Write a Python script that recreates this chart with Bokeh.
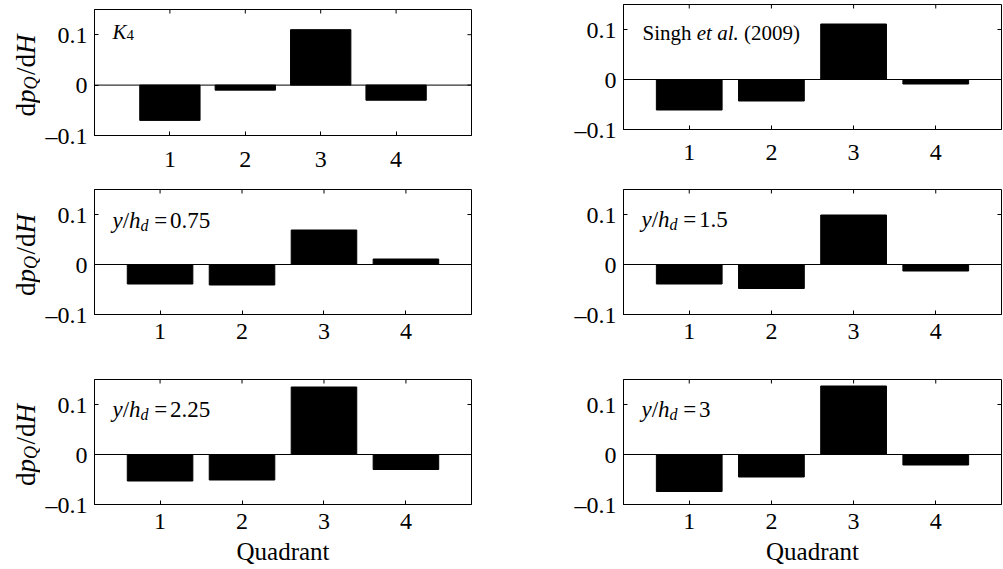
import math
from bokeh.plotting import figure
from bokeh.models import FixedTicker, Span, Label, Range1d
from bokeh.layouts import column, row
from bokeh.embed import file_html
from bokeh.resources import INLINE

# ---------------- data ----------------
quadrants = [1, 2, 3, 4]
quadrant_labels = ["1", "2", "3", "4"]
y_ticks = [-0.1, 0, 0.1]
y_tick_labels = ["\u20130.1", "0", "0.1"]

k4_values = [-0.070, -0.010, 0.110, -0.030]
singh_values = [-0.061, -0.043, 0.111, -0.009]
yh075_values = [-0.039, -0.041, 0.069, 0.011]
yh150_values = [-0.039, -0.048, 0.099, -0.013]
yh225_values = [-0.053, -0.051, 0.135, -0.030]
yh300_values = [-0.074, -0.045, 0.137, -0.021]

yh_labels = ["0.75", "1.5", "2.25", "3"]
x_label = "Quadrant"

FONT = "Liberation Serif"
TICK_FS = 24

# Times / Liberation Serif advance widths (em)
ROMAN = {"d": .5, "/": .278, "=": .564, " ": .25, ".": .25, "(": .333, ")": .333,
         "S": .556, "i": .278, "n": .5, "g": .5, "h": .5}
ITALIC = {"K": .667, "p": .5, "Q": .722, "H": .722, "y": .444, "h": .5, "d": .5,
          "e": .444, "t": .278, "a": .5, "l": .278, ".": .25, " ": .25}


def text_width(s, style, size):
    tab = ITALIC if style == "italic" else ROMAN
    return sum(tab.get(c, 0.5) for c in s) * size


class Geom:
    def __init__(self, L, R, T, B, xr, yr):
        self.L, self.R, self.T, self.B = L, R, T, B
        self.xr, self.yr = xr, yr

    def to_data(self, px, py):
        x0, x1 = self.xr
        y0, y1 = self.yr
        x = x0 + (px - self.L) / (self.R - self.L) * (x1 - x0)
        y = y0 + (self.B - py) / (self.B - self.T) * (y1 - y0)
        return x, y


def rich_label(p, geom, px, py, pieces, vertical=False):
    x, y = geom.to_data(px, py)
    cum = 0.0
    for text, style, size, shift in pieces:
        if text == "":
            cum += size
            continue
        if vertical:
            lab = Label(x=x, y=y, x_offset=shift, y_offset=cum, text=text,
                        angle=math.pi / 2, text_font=FONT, text_font_style=style,
                        text_font_size=f"{size}px", text_color="black",
                        text_baseline="alphabetic", text_align="left")
        else:
            lab = Label(x=x, y=y, x_offset=cum, y_offset=-shift, text=text,
                        text_font=FONT, text_font_style=style,
                        text_font_size=f"{size}px", text_color="black",
                        text_baseline="alphabetic", text_align="left")
        p.add_layout(lab)
        cum += text_width(text, style, size)


def style_axis(ax, ticks):
    ax.ticker = FixedTicker(ticks=ticks)
    ax.major_tick_in = 4
    ax.major_tick_out = 0
    ax.minor_tick_in = 0
    ax.minor_tick_out = 0
    ax.axis_line_color = "black"
    ax.axis_line_width = 1
    ax.major_tick_line_color = "black"
    ax.major_label_text_font = FONT
    ax.major_label_text_color = "black"
    ax.major_label_text_font_size = f"{TICK_FS}px"


def make_panel(values, width, height, bl, br, bt, bb, xr, x_standoff, with_xlabel=False):
    yr = (-0.1, 0.15)
    p = figure(width=width, height=height, x_range=Range1d(*xr), y_range=Range1d(*yr),
               output_backend="svg", toolbar_location=None,
               min_border_left=bl, min_border_right=br, min_border_top=bt, min_border_bottom=bb)
    p.xgrid.visible = False
    p.ygrid.visible = False
    p.outline_line_color = "black"
    p.outline_line_width = 1
    p.background_fill_color = "white"
    p.border_fill_color = "white"

    xax = p.xaxis[0]
    yax = p.yaxis[0]
    style_axis(xax, quadrants)
    xax.major_label_overrides = dict(zip(quadrants, quadrant_labels))
    xax.major_label_standoff = x_standoff
    style_axis(yax, y_ticks)
    yax.major_label_overrides = dict(zip(y_ticks, y_tick_labels))
    yax.major_label_standoff = 7

    if with_xlabel:
        xax.axis_label = x_label
        xax.axis_label_text_font = FONT
        xax.axis_label_text_font_style = "normal"
        xax.axis_label_text_font_size = "25px"
        xax.axis_label_text_color = "black"
        xax.axis_label_standoff = 6

    p.vbar(x=quadrants, top=values, bottom=0, width=0.8,
           fill_color="black", line_color="black", line_width=1)
    p.add_layout(Span(location=0, dimension="width", line_color="black", line_width=1))

    # inward ticks on the top and right edges of the box (MATLAB style)
    p.ray(x=quadrants, y=[yr[1]] * len(quadrants), length=4, length_units="screen",
          angle=-math.pi / 2, line_color="black", line_width=1)
    p.ray(x=[xr[1]] * len(y_ticks), y=y_ticks, length=4, length_units="screen",
          angle=math.pi, line_color="black", line_width=1)

    geom = Geom(bl, width - br, bt, height - bb, xr, yr)
    return p, geom


def label_strip(height):
    s = figure(width=40, height=height, x_range=Range1d(0, 40), y_range=Range1d(0, height),
               output_backend="svg", toolbar_location=None, x_axis_type=None, y_axis_type=None,
               min_border=0)
    s.outline_line_color = None
    s.background_fill_color = "white"
    s.border_fill_color = "white"
    return s, Geom(0, 40, 0, height, (0, 40), (0, height))


LW, RW = 491, 472
XR_TOP_LEFT = (0, 5)
XR = (0.2, 4.8)
ROW_H = [175, 185, 209]


def ylabel_pieces():
    return [("d", "normal", 27, 0), ("p", "italic", 27, 0), ("Q", "italic", 18, 5),
            ("", None, 1.5, 0), ("/", "normal", 27, 0), ("d", "normal", 27, 0),
            ("H", "italic", 27, 0)]


def ylabel_len():
    tot = 0
    for t, s, size, sh in ylabel_pieces():
        tot += size if t == "" else text_width(t, s, size)
    return tot


def yh_pieces(v, f=23):
    return [("y", "italic", f, 0), ("/", "normal", f, 0), ("h", "italic", f, 0),
            ("d", "italic", round(f * 0.7), round(f * 0.2)), ("", None, f * 0.25, 0),
            ("=", "normal", f, 0), ("", None, f * 0.12, 0), (v, "normal", f, 0)]


# left column
p1, g1 = make_panel(k4_values, LW, ROW_H[0], 54, 60, 9, 40, XR_TOP_LEFT, 16)
p3, g3 = make_panel(yh075_values, LW, ROW_H[1], 54, 60, 14, 46, XR, 9)
p5, g5 = make_panel(yh225_values, LW, ROW_H[2], 54, 60, 19, 65, XR, 9, with_xlabel=True)
# right column
p2, g2 = make_panel(singh_values, RW, ROW_H[0], 92, 2, 4, 46, XR, 15)
p4, g4 = make_panel(yh150_values, RW, ROW_H[1], 92, 2, 14, 46, XR, 9)
p6, g6 = make_panel(yh300_values, RW, ROW_H[2], 92, 2, 19, 65, XR, 9, with_xlabel=True)

# annotations
rich_label(p1, g1, 72, 31, [("K", "italic", 21, 0), ("4", "normal", 15, 3)])
f = 21
rich_label(p2, g2, 111, 32, [("Singh", "normal", f, 0), ("", None, 0.25 * f, 0),
                             ("et al.", "italic", f, 0), ("", None, 0.25 * f, 0),
                             ("(2009)", "normal", f, 0)])
rich_label(p3, g3, 72, 45, yh_pieces(yh_labels[0]))
rich_label(p4, g4, 110, 44, yh_pieces(yh_labels[1]))
rich_label(p5, g5, 72, 49, yh_pieces(yh_labels[2]))
rich_label(p6, g6, 110, 49, yh_pieces(yh_labels[3]))

# y-axis labels in a narrow strip left of the left column
L = ylabel_len()
strips = []
for h, g in zip(ROW_H, (g1, g3, g5)):
    s, sg = label_strip(h)
    cy = (g.T + g.B) / 2 + 3
    rich_label(s, sg, 25, cy + L / 2, ylabel_pieces(), vertical=True)
    strips.append(s)

layout = row(column(*strips), column(p1, p3, p5), column(p2, p4, p6))

with open("out.html", "w") as fh:
    fh.write(file_html(layout, INLINE))
